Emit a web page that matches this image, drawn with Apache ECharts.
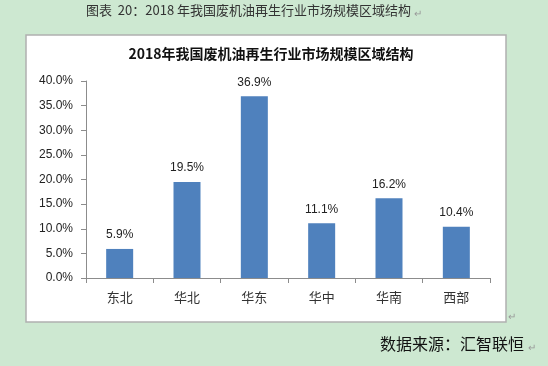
<!DOCTYPE html>
<html><head><meta charset="utf-8">
<script src="https://cdn.jsdelivr.net/npm/echarts@6/dist/echarts.min.js"></script>
<style>html,body{margin:0;padding:0;background:#cde8d1;}#c{width:548px;height:366px;}</style>
</head><body><div id="c"></div>
<script>
const categories = ['东北','华北','华东','华中','华南','西部'];
const values = [5.9, 19.5, 36.9, 11.1, 16.2, 10.4];
const yTicks = [0, 5, 10, 15, 20, 25, 30, 35, 40];
const chartTitle = '2018年我国废机油再生行业市场规模区域结构';
const caption = '图表  20：2018 年我国废机油再生行业市场规模区域结构';
const source = '数据来源：汇智联恒';

const chart = echarts.init(document.getElementById('c'), null, {renderer:'canvas'});
chart.setOption({
  backgroundColor: '#cde8d1',
  animation: false,
  graphic: [
    {type:'rect', z:-1, shape:{x:26, y:35, width:480, height:287}, style:{fill:'#ffffff', stroke:'#b0b0b0', lineWidth:1.5}},
    {type:'text', left: 86, top: 4, style:{text: caption, font:'13px "Noto Sans CJK SC"', fill:'#333333'}},
    {type:'text', left: 414, top: 8, style:{text:'↵', font:'10px "Noto Sans CJK SC"', fill:'#999'}},
    {type:'text', left: 508, top: 311, style:{text:'↵', font:'10px "Noto Sans CJK SC"', fill:'#999'}},
    {type:'text', left: 380, top: 336, style:{text: source, font:'16px "Noto Sans CJK SC"', fill:'#111'}},
    {type:'text', left: 528, top: 342, style:{text:'↵', font:'10px "Noto Sans CJK SC"', fill:'#999'}}
  ],
  title: {
    text: chartTitle, left: 266, textAlign: 'center', top: 42,
    textStyle: {fontSize: 14, fontWeight: 'bold', color: '#111', fontFamily: '"Noto Sans CJK SC"'}
  },
  grid: {left: 86, right: 58, top: 81, bottom: 88},
  xAxis: {
    type: 'category', data: categories,
    axisLine: {lineStyle: {color: '#8c8c8c'}},
    axisTick: {show: true, length: 5, lineStyle: {color: '#8c8c8c'}},
    axisLabel: {color: '#333', fontSize: 13, margin: 13, fontFamily: '"Noto Sans CJK SC"'}
  },
  yAxis: {
    type: 'value', min: yTicks[0], max: yTicks[yTicks.length-1], interval: 5,
    axisLine: {show: true, lineStyle: {color: '#8c8c8c'}},
    axisTick: {show: true, length: 5, lineStyle: {color: '#8c8c8c'}},
    splitLine: {show: false},
    axisLabel: {color: '#222', fontSize: 12, margin: 13, fontFamily: '"Liberation Sans", Arial', formatter: v => v.toFixed(1) + '%'}
  },
  series: [{
    type: 'bar', data: values, barWidth: 27,
    itemStyle: {color: '#4f81bd'},
    label: {show: true, position: 'top', distance: 8, color: '#222', fontSize: 12, fontFamily: '"Liberation Sans", Arial',
      formatter: p => p.value.toFixed(1) + '%'}
  }]
});
</script></body></html>
